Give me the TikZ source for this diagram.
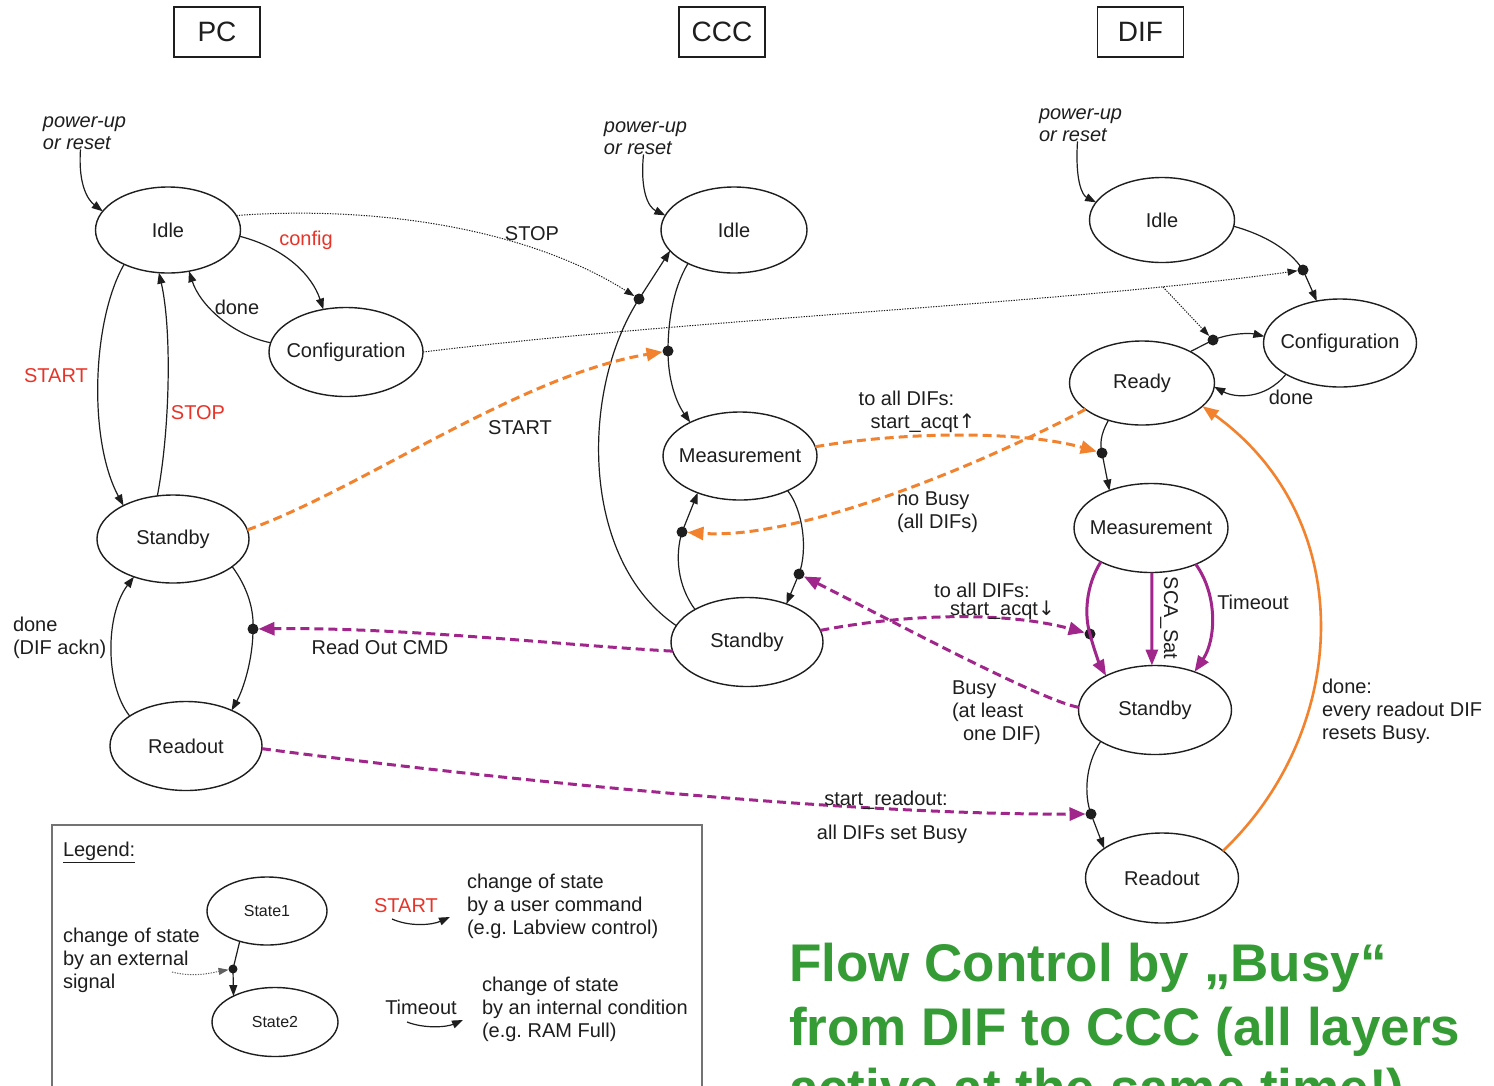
\documentclass[tikz,border=0pt]{standalone}
\usepackage{fontspec}
\setmainfont{Liberation Sans}
\newfontfamily\symfont{DejaVu Sans}
\usetikzlibrary{arrows.meta,shapes.geometric}
\definecolor{txt}{RGB}{30,30,30}
\definecolor{cmdred}{RGB}{232,52,40}
\definecolor{busyorange}{RGB}{242,130,45}
\definecolor{sigpurple}{RGB}{160,38,140}
\definecolor{titlegreen}{RGB}{53,155,53}
\definecolor{boxgray}{RGB}{115,115,115}
\newcommand\ztext[1]{\makebox[0pt]{#1}}
\frenchspacing
\begin{document}
\begin{tikzpicture}[x=1pt,y=-1pt,
  every node/.style={font=\fontsize{20}{23}\selectfont, text=txt, inner sep=0pt, outer sep=0pt},
  st/.style args={#1/#2}{ellipse, draw=txt, line width=1.4pt, minimum width=#1pt, minimum height=#2pt},
  hdr/.style={draw=txt, line width=1.2pt, minimum width=86pt, minimum height=50pt, font=\fontsize{28}{32}\selectfont},
  pu/.style={align=left, font=\fontsize{20}{22}\selectfont\itshape},
  lred/.style={text=cmdred},
  ml/.style={align=left, anchor=west},
  dotn/.style={circle, fill=txt, minimum size=11pt},
  arr/.style={draw=txt, line width=1.2pt, -{Triangle[length=11pt,width=8pt]}},
  dotline/.style={draw=txt, line width=1pt, dash pattern=on 1.3pt off 1.3pt, -{Triangle[length=10pt,width=7pt]}},
  odash/.style={draw=busyorange, line width=3pt, dash pattern=on 9pt off 5pt, -{Triangle[length=16pt,width=13pt]}},
  pdash/.style={draw=sigpurple, line width=3pt, dash pattern=on 9pt off 5pt, -{Triangle[length=16pt,width=13pt]}},
  pthick/.style={draw=sigpurple, line width=3pt, -{Triangle[length=16pt,width=12pt]}},
  osolid/.style={draw=busyorange, line width=2.6pt, -{Triangle[length=16pt,width=12pt]}},
  green/.style={anchor=base west, font=\fontsize{53}{64}\selectfont\bfseries, text=titlegreen}
]
\fill[white] (0,0) rectangle (1494,1085);
\useasboundingbox (0,0) rectangle (1494,1085);

% headers
\node[hdr] (hPC) at (217,32) {PC};
\node[hdr] (hCCC) at (722,32) {CCC};
\node[hdr] (hDIF) at (1140.5,32) {DIF};

% power-up texts
\node[pu] (pu1) at (84.5,133) {power-up\\or reset};
\node[pu] (pu2) at (645.5,138) {power-up\\or reset};
\node[pu] (pu3) at (1080.5,125) {power-up\\or reset};

% PC states
\node[st=145/86] (pcIdle) at (168,230) {\ztext{Idle}};
\node[st=154/89] (pcConf) at (346,352) {\ztext{Configuration}};
\node[st=152/88] (pcStby) at (173,539) {\ztext{Standby}};
\node[st=152/89] (pcRead) at (186,746) {\ztext{Readout}};
% CCC states
\node[st=146/86] (cIdle) at (734,230) {\ztext{Idle}};
\node[st=154/88] (cMeas) at (740,456) {\ztext{Measurement}};
\node[st=152/89] (cStby) at (747,642) {\ztext{Standby}};
% DIF states
\node[st=145/85] (dIdle) at (1162,220) {\ztext{Idle}};
\node[st=153/88] (dConf) at (1340,343) {\ztext{Configuration}};
\node[st=145/84] (dReady) at (1142,383) {\ztext{Ready}};
\node[st=154/89] (dMeas) at (1151,528) {\ztext{Measurement}};
\node[st=153/89] (dStby) at (1155,710) {\ztext{Standby}};
\node[st=153/90] (dRead) at (1162,878) {\ztext{Readout}};

% junction dots
\node[dotn] (dA) at (253,629) {};
\node[dotn] (dB) at (639,299) {};
\node[dotn] (dC) at (668,351) {};
\node[dotn] (dD) at (682,532) {};
\node[dotn] (dE) at (799,574) {};
\node[dotn] (dF) at (1303,270) {};
\node[dotn] (dG) at (1213,340) {};
\node[dotn] (dH) at (1102,453) {};
\node[dotn] (dI) at (1090,634) {};
\node[dotn] (dJ) at (1091,814) {};

% PC transitions
\draw[arr] ([xshift=-4pt]pu1.south) .. controls (78,185) and (88,200) .. (pcIdle.164);
\draw[arr] (pcIdle.-5) .. controls (285,248) and (312,275) .. (pcConf.118);
\draw[arr] (pcConf.173) .. controls (232,335) and (200,305) .. (pcIdle.-63);
\draw[arr] (pcIdle.218) .. controls (92,320) and (88,440) .. (pcStby.146);
\draw[arr] (pcStby.110) .. controls (170,430) and (172,330) .. (pcIdle.258);
\draw[arr] (pcStby.-25) .. controls (248,588) and (254,610) .. (dA.center) .. controls (253,660) and (243,690) .. (pcRead.38);
\draw[arr] (pcRead.152) .. controls (105,685) and (105,615) .. (pcStby.224);

% CCC transitions
\draw[arr] ([xshift=-2pt]pu2.south) .. controls (640,190) and (648,207) .. (cIdle.168);
\draw[arr] (cStby.167) .. controls (580,560) and (580,390) .. (dB.center) -- (cIdle.198);
\draw[arr] (cIdle.216) .. controls (672,290) and (668,325) .. (dC.center) .. controls (668,380) and (676,402) .. (cMeas.146);
\draw[arr] (cMeas.-36) .. controls (803,510) and (808,550) .. (dE.center) -- (cStby.44);
\draw[arr] (cStby.148) .. controls (677,585) and (675,555) .. (dD.center) -- (cMeas.221);

% DIF transitions
\draw[arr] ([xshift=-3pt]pu3.south) .. controls (1075,180) and (1082,195) .. (dIdle.165);
\draw[arr] (dIdle.-5) .. controls (1265,235) and (1290,250) .. (dF.center) -- (dConf.119);
\draw[arr] (dReady.33) -- (dG.center) .. controls (1230,333) and (1250,333) .. (dConf.175);
\draw[arr] (dConf.210) .. controls (1265,400) and (1235,398) .. (dReady.-3);
\draw[arr] (dReady.228) .. controls (1100,435) and (1100,445) .. (dH.center) -- (dMeas.138);
\draw[pthick] (dMeas.214) .. controls (1086,585) and (1084,615) .. (dI.center) .. controls (1094,650) and (1100,665) .. (dStby.145);
\draw[pthick] (dMeas.-89) -- (dStby.94);
\draw[pthick] (dMeas.-39) .. controls (1218,595) and (1216,640) .. (dStby.44);
\draw[arr] (dStby.210) .. controls (1085,765) and (1084,795) .. (dJ.center) -- (dRead.153);
\draw[osolid] (dRead.24) .. controls (1350,730) and (1360,520) .. (dReady.-21);

% cross-layer signals
\draw[dotline] (pcIdle.12) .. controls (380,205) and (530,230) .. (dB);
\draw[dotline] (pcConf.east) .. controls (700,318) and (1050,305) .. (dF);
\coordinate (br) at (1163,287);
\draw[dotline] (br) -- (dG);
\draw[odash] (pcStby.7) .. controls (360,490) and (520,375) .. (dC);
\draw[odash] (cMeas.7) .. controls (900,432) and (1020,430) .. (dH);
\draw[odash] (dReady.205) .. controls (980,465) and (800,540) .. (dD);
\draw[pdash] (cStby.187) .. controls (560,645) and (400,627) .. (dA);
\draw[pdash] (cStby.9) .. controls (900,615) and (1000,610) .. (dI);
\draw[pdash] (dStby.178) .. controls (1040,700) and (900,625) .. (dE);
\draw[pdash] (pcRead.-2) .. controls (500,780) and (850,815) .. (dJ);

% labels
\node[lred] (lConfig) at (306,240) {config};
\node (lDone1) at (237,307) {done};
\node[lred] (lStart1) at (56,376) {START};
\node[lred] (lStop1) at (198,413) {STOP};
\node (lStop2) at (532,234) {STOP};
\node (lStart2) at (520,428) {START};
\node[ml] (lDoneAck) at (13,638) {done\\(DIF ackn)};
\node (lROC) at (380,647) {Read Out CMD};
\node (lAll1) at (906.5,398) {to all DIFs:};
\node (lAcq1) at (923,423) {start\_acqt{\symfont ↑}};
\node[ml] (lNoBusy) at (897,512) {no Busy\\(all DIFs)};
\node (lAll2) at (982,590) {to all DIFs:};
\node (lAcq2) at (1002.5,610) {start\_acqt{\symfont ↓}};
\node[ml] (lBusy) at (952,713) {Busy\\(at least\\\hspace*{11pt}one DIF)};
\node (lSR) at (886,800) {start\_readout:};
\node (lSB) at (892,834) {all DIFs set Busy};
\node (lDone2) at (1291,397) {done};
\node (lTO) at (1253,602) {Timeout};
\node[rotate=-90] (lSCA) at (1169,618) {SCA\_Sat};
\node[ml] (lDone3) at (1322,711.5) {done:\\every readout DIF\\resets Busy.};

% legend
\draw[boxgray, line width=1.5pt] (52,825) rectangle (702,1110);
\node[anchor=west] (lLeg) at (63,852) {\underline{Legend:}};
\node[st=120/68, font=\fontsize{16}{19}\selectfont] (s1) at (267,911) {\ztext{State1}};
\node[st=126/69, font=\fontsize{16}{19}\selectfont] (s2) at (275,1022) {\ztext{State2}};
\node[dotn, minimum size=9pt] (dL) at (233,969) {};
\draw[arr] (s1.228) -- (dL.center) -- (s2.148);
\coordinate (lx) at (172,972);
\draw[dotline, draw=txt!70] (lx) .. controls (195,978) and (215,972) .. (dL);
\node[ml] (lExt) at (63,960) {change of state\\by an external\\signal};
\node[lred] (lStartL) at (406,906) {START};
\coordinate (la1) at (392,919);
\coordinate (la2) at (450,917);
\draw[arr] (la1) .. controls (410,927) and (432,925) .. (la2);
\node[ml] (lUser) at (467,906) {change of state\\by a user command\\(e.g. Labview control)};
\node (lTOL) at (421,1007) {Timeout};
\coordinate (lb1) at (407,1022);
\coordinate (lb2) at (463,1020);
\draw[arr] (lb1) .. controls (425,1029) and (447,1027) .. (lb2);
\node[ml] (lInt) at (482,1009) {change of state\\by an internal condition\\(e.g. RAM Full)};

% title
\node[green] (g1) at (789,981) {Flow Control by „Busy“};
\node[green] (g2) at (789,1045) {from DIF to CCC (all layers};
\node[green] (g3) at (789,1106) {active at the same time!)};
\end{tikzpicture}
\end{document}
